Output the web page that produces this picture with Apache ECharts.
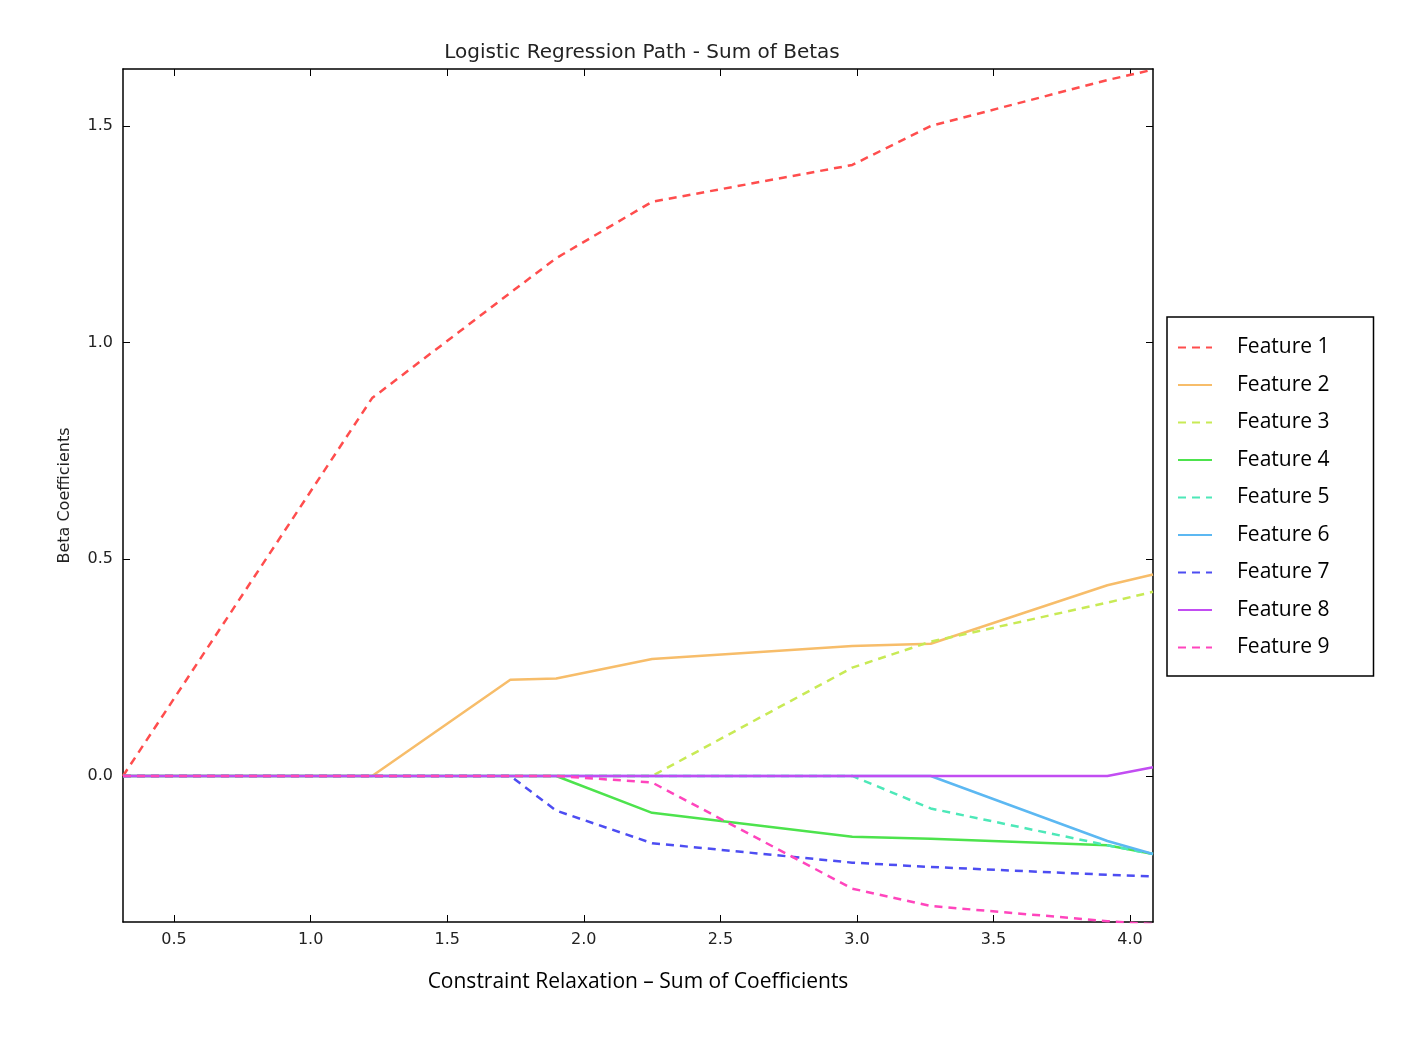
<!DOCTYPE html>
<html><head><meta charset="utf-8">
<script src="https://cdn.jsdelivr.net/npm/echarts@6/dist/echarts.min.js"></script>
<style>html,body{margin:0;background:#fff}#c{width:1426px;height:1044px}</style>
</head><body><div id="c"></div>
<script>
const xs = [0.313, 1.225, 1.731, 1.899, 2.25, 2.983, 3.27, 3.917, 4.084];
const names = ['Feature 1','Feature 2','Feature 3','Feature 4','Feature 5','Feature 6','Feature 7','Feature 8','Feature 9'];
const xTicks = [0.5, 1.0, 1.5, 2.0, 2.5, 3.0, 3.5, 4.0];
const yTicks = [0.0, 0.5, 1.0, 1.5];
const f1 = [0, 0.872, 1.115, 1.195, 1.325, 1.41, 1.5, 1.606, 1.63];
const f2 = [0, 0, 0.222, 0.225, 0.27, 0.30, 0.305, 0.44, 0.465];
const f3 = [0, 0, 0, 0, 0, 0.25, 0.31, 0.40, 0.425];
const f4 = [0, 0, 0, 0, -0.085, -0.14, -0.145, -0.16, -0.18];
const f5 = [0, 0, 0, 0, 0, 0, -0.075, -0.16, -0.18];
const f6 = [0, 0, 0, 0, 0, 0, 0, -0.15, -0.18];
const f7 = [0, 0, 0, -0.08, -0.155, -0.2, -0.21, -0.228, -0.232];
const f8 = [0, 0, 0, 0, 0, 0, 0, 0, 0.02];
const f9 = [0, 0, 0, 0, -0.015, -0.26, -0.3, -0.335, -0.342];
const values = [f1,f2,f3,f4,f5,f6,f7,f8,f9];
const colors = ['#ff4d4d','#f7bd6a','#c8ea55','#4de34d','#4de8b8','#5cb8f2','#4d4df2','#c24df2','#ff45bd'];
const dashed = [true,false,true,false,true,false,true,false,true];
const series = values.map((v,i)=>({
  name:names[i], type:'line', showSymbol:false, symbol:'none', animation:false,
  data: xs.map((x,j)=>[x,v[j]]),
  lineStyle:{color:colors[i], width:2.5, type: dashed[i]?[8,6]:'solid'},
  itemStyle:{color:colors[i]}
}));
function ax(ticks, showLabel){
  return {axisLine:{show:true,onZero:false,lineStyle:{color:'#000',width:1.5}},
    axisTick:{inside:true,length:7,lineStyle:{color:'#000'},customValues:ticks},
    splitLine:{show:false},
    axisLabel:{show:showLabel,customValues:ticks,formatter:v=>v.toFixed(1),fontFamily:'DejaVu Sans',fontSize:16,color:'#222',margin:10}};
}
const chart = echarts.init(document.getElementById('c'));
chart.setOption({
  backgroundColor:'#fff',
  title:{text:'Logistic Regression Path - Sum of Betas',left:637,top:38,textAlign:'center',textStyle:{fontFamily:'DejaVu Sans',fontWeight:'normal',fontSize:20,color:'#222'}},
  grid:{left:123,right:273,top:69,bottom:122},
  legend:{orient:'vertical',left:1167,top:317,padding:[20,44,18,10],itemGap:16.5,itemWidth:34,itemHeight:12,
    itemStyle:{opacity:0},
    borderColor:'#000',borderWidth:1.5,textStyle:{fontFamily:'Open Sans',fontSize:21,color:'#000',padding:[0,0,0,20]},data:names},
  xAxis:[{type:'value',min:0.313,max:4.084,...ax(xTicks,true),
    name:'Constraint Relaxation – Sum of Coefficients',nameLocation:'middle',nameGap:50,
    nameTextStyle:{fontFamily:'Open Sans',fontSize:21,color:'#000'}},
   {type:'value',position:'top',min:0.313,max:4.084,...ax(xTicks,false)}],
  yAxis:[{type:'value',min:-0.337,max:1.6315,...ax(yTicks,true),
    name:'Beta Coefficients',nameLocation:'middle',nameGap:50,nameTextStyle:{fontFamily:'DejaVu Sans',fontSize:16,color:'#222'}},
   {type:'value',position:'right',min:-0.337,max:1.6315,...ax(yTicks,false)}],
  series
});
</script></body></html>
